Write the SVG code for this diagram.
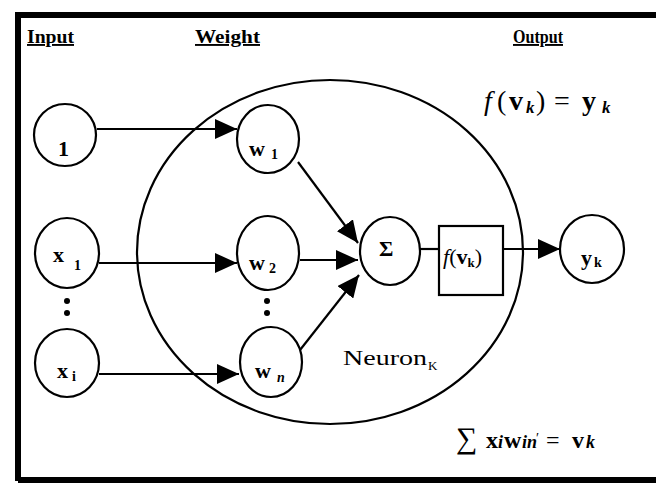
<svg xmlns="http://www.w3.org/2000/svg" width="656" height="486" viewBox="0 0 656 486">
<defs>
<marker id="ah" markerUnits="userSpaceOnUse" markerWidth="22" markerHeight="20" refX="22" refY="10" orient="auto">
<path d="M0,0 L22,10 L0,20 Z" fill="#000"/>
</marker>
<style>
.n{fill:#fff;stroke:#000;stroke-width:2.2}
.c{stroke:#000;stroke-width:2.2;fill:none}
.t{font-family:"Liberation Serif","Times New Roman",serif;fill:#000}
.lb{font-size:22px;font-weight:bold}
.sb{font-size:14px;font-weight:bold}
.hd{font-size:19px;font-weight:bold;text-decoration:underline}
</style>
</defs>
<rect width="656" height="486" fill="#fff"/>
<g id="frame">
<path d="M18,481 L18,15 L656,15" fill="none" stroke="#000" stroke-width="6"/>
<path d="M18,480 L656,480" fill="none" stroke="#000" stroke-width="6"/>
</g>
<g id="headers">
<text class="t hd" x="27" y="43" textLength="47" lengthAdjust="spacingAndGlyphs">Input</text>
<text class="t hd" x="195" y="43" textLength="65" lengthAdjust="spacingAndGlyphs">Weight</text>
<text class="t hd" x="513" y="43" textLength="50" lengthAdjust="spacingAndGlyphs">Output</text>
</g>
<g id="neuron">
<ellipse class="c" cx="330" cy="252" rx="193" ry="172"/>
<text class="t" x="343" y="365" font-size="20" textLength="84" lengthAdjust="spacingAndGlyphs">Neuron</text>
<text class="t" x="428" y="370" font-size="13">K</text>
</g>
<g id="connectors">
<line class="c" x1="97" y1="129" x2="237" y2="129" marker-end="url(#ah)"/>
<line class="c" x1="99" y1="263" x2="237" y2="263" marker-end="url(#ah)"/>
<line class="c" x1="99" y1="374" x2="239" y2="374" marker-end="url(#ah)"/>
<line class="c" x1="298" y1="162" x2="358" y2="243" marker-end="url(#ah)"/>
<line class="c" x1="300" y1="260" x2="358" y2="260" marker-end="url(#ah)"/>
<line class="c" x1="300" y1="350" x2="359" y2="275" marker-end="url(#ah)"/>
<line class="c" x1="420" y1="249" x2="438" y2="249"/>
<line class="c" x1="503" y1="249" x2="560" y2="249" marker-end="url(#ah)"/>
</g>
<g id="in1">
<ellipse class="n" cx="65" cy="135" rx="31" ry="31"/>
<text class="t lb" x="58" y="156">1</text>
</g>
<g id="inx1">
<ellipse class="n" cx="67" cy="253" rx="32" ry="35"/>
<text class="t lb" x="53" y="262">x</text>
<text class="t sb" x="74" y="270">1</text>
</g>
<g id="dots-in">
<circle cx="67" cy="301" r="3"/>
<circle cx="67" cy="313" r="3"/>
</g>
<g id="inxi">
<ellipse class="n" cx="67" cy="363" rx="32" ry="34"/>
<text class="t lb" x="57" y="378">x</text>
<text class="t sb" x="72" y="381">i</text>
</g>
<g id="w1">
<ellipse class="n" cx="268" cy="139" rx="31" ry="34"/>
<text class="t lb" x="249" y="156">w</text>
<text class="t sb" x="271" y="159">1</text>
</g>
<g id="w2">
<ellipse class="n" cx="268" cy="253" rx="31" ry="37"/>
<text class="t lb" x="249" y="270">w</text>
<text class="t sb" x="269" y="273">2</text>
</g>
<g id="dots-w">
<circle cx="267" cy="301" r="3"/>
<circle cx="267" cy="313" r="3"/>
</g>
<g id="wn">
<ellipse class="n" cx="271" cy="362" rx="31" ry="35"/>
<text class="t lb" x="255" y="378">w</text>
<text class="t sb" x="277" y="382" font-style="italic">n</text>
</g>
<g id="sum">
<ellipse class="n" cx="390" cy="251" rx="30" ry="34"/>
<text class="t" x="379" y="256" font-size="22" font-weight="bold">Σ</text>
</g>
<g id="act">
<rect class="n" x="439" y="226" width="64" height="69"/>
<text class="t" x="443" y="264" font-size="22"><tspan font-style="italic">f</tspan><tspan>(</tspan><tspan font-weight="bold">v</tspan><tspan font-size="13" font-weight="bold" dy="3">k</tspan><tspan dy="-3">)</tspan></text>
</g>
<g id="yk">
<ellipse class="n" cx="592" cy="249" rx="32" ry="34"/>
<text class="t lb" x="581" y="265">y</text>
<text class="t sb" x="594" y="267">k</text>
</g>
<g id="eq-top">
<text class="t" y="110" font-size="28"><tspan x="484" font-style="italic">f</tspan><tspan x="497">(</tspan><tspan x="509" font-weight="bold">v</tspan><tspan x="526" y="113" font-size="17" font-style="italic" font-weight="bold">k</tspan><tspan x="536" y="110">)</tspan><tspan x="554">=</tspan><tspan x="582" font-weight="bold">y</tspan><tspan x="602" y="113" font-size="17" font-style="italic" font-weight="bold">k</tspan></text>
</g>
<g id="eq-bottom">
<text class="t" y="448" font-size="24"><tspan x="456" font-size="30">∑</tspan><tspan x="486" font-weight="bold">x</tspan><tspan x="498" font-size="18" font-style="italic" font-weight="bold">i</tspan><tspan x="504" font-weight="bold">w</tspan><tspan x="522" font-size="18" font-style="italic" font-weight="bold">in</tspan><tspan x="536" y="443" font-size="14">′</tspan><tspan x="546" y="448">=</tspan><tspan x="572" font-weight="bold">v</tspan><tspan x="586" font-size="18" font-style="italic" font-weight="bold">k</tspan></text>
</g>
</svg>
